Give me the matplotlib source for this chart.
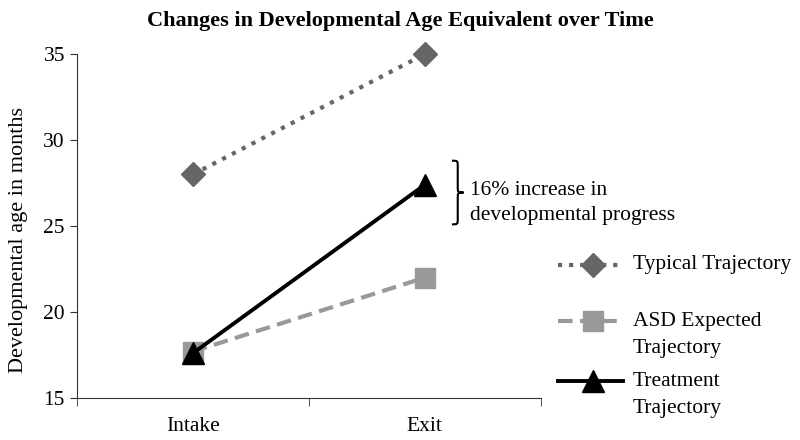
import matplotlib
matplotlib.use("Agg")
import matplotlib.pyplot as plt
from matplotlib.lines import Line2D
from matplotlib.path import Path
from matplotlib.patches import PathPatch

plt.rcParams['font.family'] = ['Liberation Serif', 'DejaVu Serif']

# ---------------------- data ----------------------
categories = ["Intake", "Exit"]
typical = [28.0, 35.0]
asd_expected = [17.7, 22.0]
treatment = [17.6, 27.4]
brace_range = (25.1, 28.8)
note = "16% increase in\ndevelopmental progress"
series_labels = ["Typical Trajectory", "ASD Expected\nTrajectory", "Treatment\nTrajectory"]

x = [1, 2]

fig = plt.figure(figsize=(8, 4.4), dpi=100)
ax = fig.add_axes([0.096, 0.0955, 0.58, 0.7815])

styles = [
    dict(color='#666666', linestyle=':', linewidth=3, marker='D', markersize=12),
    dict(color='#999999', linestyle=(0, (3.5, 1.8)), linewidth=3, marker='s', markersize=14),
    dict(color='black', linestyle='-', linewidth=2.8, marker='^', markersize=16),
]
for vals, st in zip([typical, asd_expected, treatment], styles):
    ax.plot(x, vals, clip_on=False, **st)

ax.set_xlim(0.5, 2.5)
ax.set_ylim(15, 35)
ax.set_yticks([15, 20, 25, 30, 35])
ax.set_xticks(x)
ax.set_xticklabels(categories)
ax.set_xticks([0.5, 1.5, 2.5], minor=True)
ax.tick_params(axis='x', which='major', length=0, labelsize=15.5, pad=14)
ax.tick_params(axis='x', which='minor', length=6, direction='out', color='#333333')
ax.tick_params(axis='y', labelsize=15.5, length=5, direction='out', color='#333333')

for s in ['top', 'right']:
    ax.spines[s].set_visible(False)
ax.spines['left'].set_color('#333333')
ax.spines['bottom'].set_color('#333333')

ax.set_ylabel("Developmental age in months", fontsize=16)
ax.yaxis.set_label_coords(-0.106, 0.46)
fig.suptitle("Changes in Developmental Age Equivalent over Time",
             fontsize=16, fontweight='bold', x=0.5, y=0.975)

# curly brace next to the Exit points
bx, w, h = 2.142, 0.025, 0.35
y0, y1 = brace_range
ym = (y0 + y1) / 2
verts = [(bx - w, y1), (bx, y1), (bx, y1), (bx, y1 - h),
         (bx, ym + h),
         (bx, ym), (bx, ym), (bx + w, ym),
         (bx, ym), (bx, ym), (bx, ym - h),
         (bx, y0 + h),
         (bx, y0), (bx, y0), (bx - w, y0)]
codes = [Path.MOVETO, Path.CURVE4, Path.CURVE4, Path.CURVE4,
         Path.LINETO,
         Path.CURVE4, Path.CURVE4, Path.CURVE4,
         Path.CURVE4, Path.CURVE4, Path.CURVE4,
         Path.LINETO,
         Path.CURVE4, Path.CURVE4, Path.CURVE4]
ax.add_patch(PathPatch(Path(verts, codes), facecolor='none', edgecolor='black',
                       linewidth=1.5, clip_on=False))
ax.text(2.195, ym - 0.6, note, fontsize=15.5, va='center', ha='left',
        linespacing=1.45, clip_on=False)

# legend drawn by hand so handles sit on the first text line
rows = [0.398, 0.270, 0.134]
gap = 27 / 440
for lab, st, yy in zip(series_labels, styles, rows):
    fig.add_artist(Line2D([0.698, 0.779], [yy, yy], color=st['color'],
                          linestyle=st['linestyle'], linewidth=st['linewidth'],
                          transform=fig.transFigure))
    fig.add_artist(Line2D([0.741], [yy], color=st['color'], marker=st['marker'],
                          markersize=st['markersize'], linestyle='none',
                          transform=fig.transFigure))
    for i, line in enumerate(lab.split("\n")):
        fig.text(0.791, yy - i * gap, line, fontsize=15.5, va='center', ha='left')

fig.savefig("out.png", dpi=100)
